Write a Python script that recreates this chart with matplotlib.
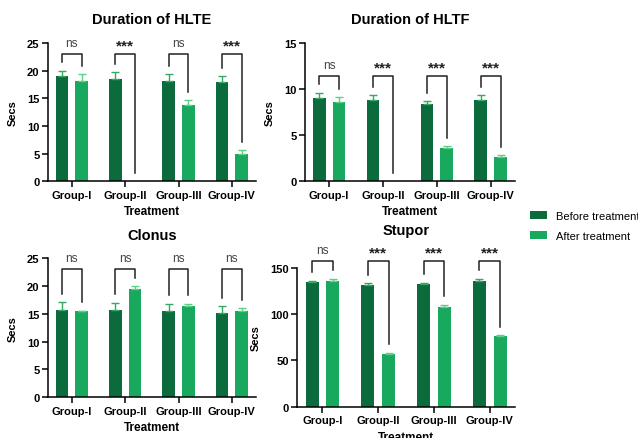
import matplotlib
matplotlib.use("Agg")
import matplotlib.pyplot as plt
import numpy as np

plt.rcParams['font.family'] = ['Liberation Sans', 'DejaVu Sans']

groups = ["Group-I", "Group-II", "Group-III", "Group-IV"]
series_names = ["Before treatment", "After treatment"]

hlte_before = [19.0, 18.5, 18.1, 18.0]
hlte_before_err = [1.0, 1.2, 1.2, 1.0]
hlte_after = [18.2, 0.0, 13.7, 5.0]
hlte_after_err = [1.1, 0.0, 1.0, 0.6]
hlte_sig = ["ns", "***", "ns", "***"]

hltf_before = [9.0, 8.8, 8.4, 8.8]
hltf_before_err = [0.6, 0.5, 0.3, 0.5]
hltf_after = [8.6, 0.0, 3.6, 2.6]
hltf_after_err = [0.5, 0.0, 0.2, 0.2]
hltf_sig = ["ns", "***", "***", "***"]

clonus_before = [15.7, 15.6, 15.4, 15.1]
clonus_before_err = [1.4, 1.4, 1.4, 1.3]
clonus_after = [15.4, 19.4, 16.4, 15.5]
clonus_after_err = [0.15, 0.5, 0.4, 0.5]
clonus_sig = ["ns", "ns", "ns", "ns"]

stupor_before = [135, 131, 132, 136]
stupor_before_err = [1.0, 2.0, 2.0, 2.0]
stupor_after = [136, 57, 108, 76]
stupor_after_err = [2.0, 1.5, 2.0, 1.5]
stupor_sig = ["ns", "***", "***", "***"]

dark = "#0c6b3d"
light = "#18a85e"
err_dark = "#35a865"
err_light = "#5fcf86"

fig = plt.figure(figsize=(6.38, 4.39), dpi=100)

panels = [
    dict(title="Duration of HLTE", pos=[0.075, 0.585, 0.326, 0.315], ymax=25, yticks=[0, 5, 10, 15, 20, 25],
         b=hlte_before, be=hlte_before_err, a=hlte_after, ae=hlte_after_err, sig=hlte_sig, top=23.0),
    dict(title="Duration of HLTF", pos=[0.478, 0.585, 0.329, 0.315], ymax=15, yticks=[0, 5, 10, 15],
         b=hltf_before, be=hltf_before_err, a=hltf_after, ae=hltf_after_err, sig=hltf_sig, top=11.4),
    dict(title="Clonus", pos=[0.075, 0.093, 0.326, 0.317], ymax=25, yticks=[0, 5, 10, 15, 20, 25],
         b=clonus_before, be=clonus_before_err, a=clonus_after, ae=clonus_after_err, sig=clonus_sig, top=23.0),
    dict(title="Stupor", pos=[0.466, 0.071, 0.341, 0.317], ymax=150, yticks=[0, 50, 100, 150],
         b=stupor_before, be=stupor_before_err, a=stupor_after, ae=stupor_after_err, sig=stupor_sig, top=157),
]

x = np.arange(len(groups))
off = 0.185
w = 0.235

handles, labels = None, None
for p in panels:
    ax = fig.add_axes(p["pos"])
    ymax = p["ymax"]
    ax.bar(x - off, p["b"], w, color=dark, zorder=2, label=series_names[0])
    ax.bar(x + off, p["a"], w, color=light, zorder=2, label=series_names[1])
    for xi, v, e in zip(x - off, p["b"], p["be"]):
        if v > 0:
            ax.errorbar(xi, v, yerr=[[0], [e]], color=err_dark, capsize=3, elinewidth=1, capthick=1, zorder=3)
    for xi, v, e in zip(x + off, p["a"], p["ae"]):
        if v > 0:
            ax.errorbar(xi, v, yerr=[[0], [e]], color=err_light, capsize=3, elinewidth=1, capthick=1, zorder=3)
    gap = 0.06 * ymax
    for i, s in enumerate(p["sig"]):
        lb = p["b"][i] + p["be"][i] + gap
        rb = p["a"][i] + p["ae"][i] + gap
        top = p["top"]
        ax.plot([x[i] - off, x[i] - off, x[i] + off, x[i] + off], [lb, top, top, rb],
                color="#222222", lw=1.1, clip_on=False, zorder=4)
        if s == "ns":
            ax.text(x[i], top + 0.035 * ymax, s, ha="center", va="bottom", fontsize=8.5,
                    color="#444444", clip_on=False)
        else:
            ax.text(x[i], top + 0.01 * ymax, s, ha="center", va="bottom", fontsize=11,
                    fontweight="bold", color="#222222", clip_on=False)
    ax.set_xlim(-0.45, 3.45)
    ax.set_ylim(0, ymax)
    ax.set_yticks(p["yticks"])
    ax.set_xticks(x)
    ax.set_xticklabels(groups, fontweight="bold", fontsize=8)
    for lab in ax.get_yticklabels():
        lab.set_fontweight("bold")
        lab.set_fontsize(8)
    ax.spines["top"].set_visible(False)
    ax.spines["right"].set_visible(False)
    ax.spines["left"].set_linewidth(1.1)
    ax.spines["bottom"].set_linewidth(1.1)
    ax.tick_params(axis="both", direction="out", length=4, width=1.1, pad=2)
    ax.set_ylabel("Secs", fontweight="bold", fontsize=8, labelpad=7)
    ax.set_xlabel("Treatment", fontweight="bold", fontsize=8.5, labelpad=4)
    ax.set_title(p["title"], fontweight="bold", fontsize=10.5, pad=14 if p["title"] != "Stupor" else 24)
    if p["title"] == "Duration of HLTF":
        handles, labels = ax.get_legend_handles_labels()

fig.legend(handles, labels, loc="upper left", bbox_to_anchor=(0.815, 0.54), frameon=False,
           fontsize=8, handlelength=1.5, handleheight=0.6, labelspacing=0.9, handletextpad=0.8)

fig.savefig("out.png", dpi=100)
